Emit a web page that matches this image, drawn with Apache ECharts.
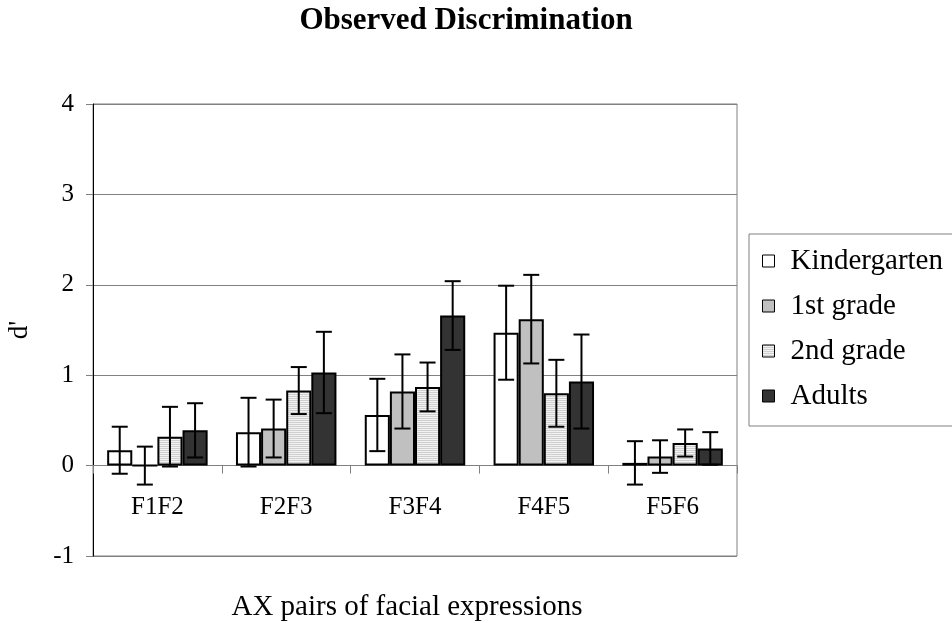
<!DOCTYPE html>
<html>
<head>
<meta charset="utf-8">
<script src="https://cdn.jsdelivr.net/npm/echarts@6/dist/echarts.min.js"></script>
<style>
  html, body { margin: 0; padding: 0; background: #fff; }
  #chart { width: 952px; height: 623px; }
</style>
</head>
<body>
<div id="chart"></div>
<script>
// Category labels (AX pairs) and group names
const categories = ['F1F2', 'F2F3', 'F3F4', 'F4F5', 'F5F6'];
const groupNames = ['Kindergarten', '1st grade', '2nd grade', 'Adults'];

// Mean d' per group
const kindergarten = [0.17, 0.37, 0.56, 1.47, 0.03];
const firstGrade   = [0.00, 0.41, 0.82, 1.62, 0.10];
const secondGrade  = [0.32, 0.83, 0.87, 0.80, 0.25];
const adults       = [0.39, 1.03, 1.66, 0.93, 0.19];

// Error bar half-widths
const kindergartenErr = [0.26, 0.38, 0.40, 0.52, 0.24];
const firstGradeErr   = [0.21, 0.32, 0.41, 0.49, 0.18];
const secondGradeErr  = [0.33, 0.26, 0.27, 0.37, 0.15];
const adultsErr       = [0.30, 0.45, 0.38, 0.52, 0.18];

// Y axis range
const yMin = -1, yMax = 4, yStep = 1;

const values = [kindergarten, firstGrade, secondGrade, adults];
const errors = [kindergartenErr, firstGradeErr, secondGradeErr, adultsErr];

// Horizontal stripe fill for the 2nd grade bars
function stripePattern() {
  const c = document.createElement('canvas');
  c.width = 4; c.height = 2;
  const ctx = c.getContext('2d');
  ctx.fillStyle = '#f2f2f2';
  ctx.fillRect(0, 0, 4, 2);
  ctx.fillStyle = '#cfcfcf';
  ctx.fillRect(0, 0, 4, 1);
  return { image: c, repeat: 'repeat' };
}

const fills = ['#ffffff', '#c0c0c0', stripePattern(), '#333333'];
const serif = '"Liberation Serif", "DejaVu Serif", serif';
const catGap = 0.22;

const barSeries = groupNames.map((name, i) => ({
  name: name,
  type: 'bar',
  data: values[i],
  barGap: '0%',
  barCategoryGap: (catGap * 100) + '%',
  itemStyle: { color: fills[i], borderColor: '#000', borderWidth: 2 },
  z: 2
}));

const errSeries = groupNames.map((name, i) => ({
  type: 'custom',
  name: name + ' error',
  z: 5,
  silent: true,
  data: categories.map((c, k) => [k, values[i][k], errors[i][k]]),
  encode: { x: 0, y: 1 },
  renderItem: function (params, api) {
    const k = api.value(0), v = api.value(1), e = api.value(2);
    const catW = api.size([1, 0])[0];
    const bw = catW * (1 - catGap) / groupNames.length;
    const hi = api.coord([k, v + e]);
    const lo = api.coord([k, v - e]);
    const x = hi[0] + (i - (groupNames.length - 1) / 2) * bw;
    const cap = 8;
    const style = { stroke: '#000', lineWidth: 2 };
    return {
      type: 'group',
      children: [
        { type: 'line', shape: { x1: x, y1: hi[1], x2: x, y2: lo[1] }, style: style },
        { type: 'line', shape: { x1: x - cap, y1: hi[1], x2: x + cap, y2: hi[1] }, style: style },
        { type: 'line', shape: { x1: x - cap, y1: lo[1], x2: x + cap, y2: lo[1] }, style: style }
      ]
    };
  }
}));

const chart = echarts.init(document.getElementById('chart'), null, { renderer: 'canvas' });
chart.setOption({
  animation: false,
  backgroundColor: '#fff',
  textStyle: { fontFamily: serif },
  grid: {
    left: 93, right: 215, top: 104, bottom: 67,
    containLabel: false,
    outerBoundsMode: 'none',
    show: true, borderColor: '#808080', borderWidth: 1
  },
  legend: {
    data: groupNames,
    orient: 'vertical',
    left: 749, top: 234,
    padding: [12, 12, 15, 13],
    itemGap: 15,
    itemWidth: 12, itemHeight: 12,
    icon: 'rect',
    borderColor: '#808080', borderWidth: 1,
    textStyle: { fontFamily: serif, fontSize: 29, lineHeight: 30, color: '#000', padding: [0, 0, 0, 11] },
    itemStyle: { borderColor: '#000', borderWidth: 1 }
  },
  xAxis: {
    type: 'category',
    data: categories,
    axisLine: { onZero: true, lineStyle: { color: '#808080', width: 1 } },
    axisTick: { show: true, length: 8, inside: false, lineStyle: { color: '#808080' } },
    axisLabel: { fontFamily: serif, fontSize: 25, color: '#000', margin: -61 },
    splitLine: { show: false }
  },
  yAxis: {
    type: 'value',
    min: yMin, max: yMax, interval: yStep,
    name: "d'",
    nameLocation: 'middle',
    nameGap: 60,
    nameRotate: 90,
    nameTextStyle: { fontFamily: serif, fontSize: 27, color: '#000' },
    axisLine: { show: true, lineStyle: { color: '#000', width: 1 } },
    axisTick: { show: true, length: 7, lineStyle: { color: '#808080' } },
    axisLabel: { fontFamily: serif, fontSize: 25, color: '#000', margin: 19 },
    splitLine: { show: true, lineStyle: { color: '#808080', width: 1 } }
  },
  graphic: [
    {
      type: 'text', x: 466, y: 36,
      style: {
        text: 'Observed Discrimination',
        font: 'bold 31px ' + serif, fill: '#000',
        textAlign: 'center', textVerticalAlign: 'bottom'
      }
    },
    {
      type: 'text', x: 407, y: 622,
      style: {
        text: 'AX pairs of facial expressions',
        font: '29px ' + serif, fill: '#000',
        textAlign: 'center', textVerticalAlign: 'bottom'
      }
    }
  ],
  series: barSeries.concat(errSeries)
});
</script>
</body>
</html>
